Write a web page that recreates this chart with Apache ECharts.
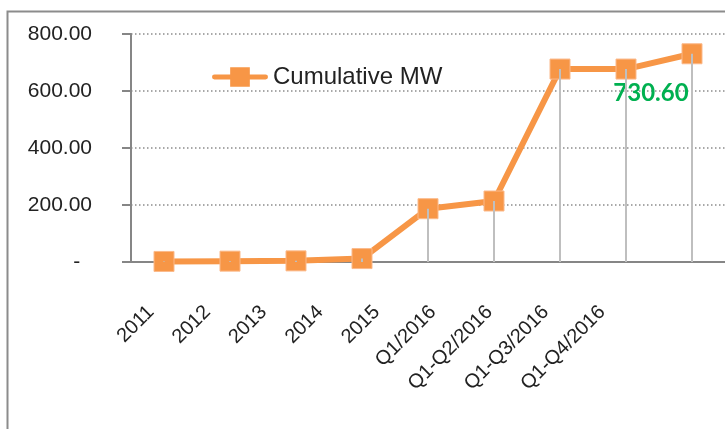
<!DOCTYPE html>
<html>
<head>
<meta charset="utf-8">
<script src="https://cdn.jsdelivr.net/npm/echarts@6/dist/echarts.min.js"></script>
<style>html,body{margin:0;padding:0;background:#fff;}#c{width:725px;height:429px;}</style>
</head>
<body>
<div id="c"></div>
<script>
var categories = ['2011','2012','2013','2014','2015','Q1/2016','Q1-Q2/2016','Q1-Q3/2016','Q1-Q4/2016'];
var cumulativeMW = [2, 3, 4, 12, 187, 214, 677, 677, 730.6];
var seriesName = 'Cumulative MW';
var yTicks = {min: 0, max: 800, interval: 200};

var chart = echarts.init(document.getElementById('c'), null, {renderer: 'canvas'});
var font = '"Liberation Sans", Arial, sans-serif';
var lastIdx = cumulativeMW.length - 1;
chart.setOption({
  animation: false,
  backgroundColor: '#fff',
  graphic: [{
    type: 'rect', shape: {x: 7.5, y: 11.5, width: 800, height: 500},
    style: {fill: 'none', stroke: '#8c8c8c', lineWidth: 2}, z: -10
  }],
  legend: {
    data: [{
      name: seriesName,
      icon: 'path://M2,7.5 L18,7.5 L18,0 L38,0 L38,7.5 L54,7.5 A2.5,2.5 0 0 1 54,12.5 L38,12.5 L38,20 L18,20 L18,12.5 L2,12.5 A2.5,2.5 0 0 1 2,7.5 Z'
    }],
    left: 212, top: 65, padding: 0,
    itemWidth: 56, itemHeight: 20, itemGap: 4,
    itemStyle: {color: '#F79646', borderWidth: 0},
    textStyle: {fontFamily: font, fontSize: 24, color: '#222'}
  },
  grid: [
    {left: 131, top: 34, width: 600, height: 228},
    {left: 122.8, top: 34, width: 507.6, height: 228}
  ],
  xAxis: [
    {
      type: 'category', data: categories, gridIndex: 0,
      axisLine: {lineStyle: {color: '#868686', width: 2}},
      axisTick: {show: false},
      axisLabel: {show: false}
    },
    {
      type: 'category', data: categories, gridIndex: 1,
      axisLine: {show: false}, axisTick: {show: false},
      axisLabel: {rotate: 45, margin: 47, fontFamily: font, fontSize: 20, color: '#222'}
    }
  ],
  yAxis: [
    {
      type: 'value', gridIndex: 0, min: yTicks.min, max: yTicks.max, interval: yTicks.interval,
      axisLine: {show: true, lineStyle: {color: '#868686', width: 2}},
      axisTick: {show: true, length: 9, lineStyle: {color: '#868686', width: 2}},
      axisLabel: {
        margin: 39, fontFamily: font, fontSize: 21, color: '#222',
        formatter: function (v) { return v === 0 ? '-  ' : v.toFixed(2); }
      },
      splitLine: {lineStyle: {color: '#8c8c8c', type: [1.5, 2.5], width: 1.5}}
    },
    {type: 'value', gridIndex: 1, show: false, min: 0, max: 800}
  ],
  series: [
    {
      name: 'drop', type: 'bar', xAxisIndex: 0, yAxisIndex: 0,
      data: cumulativeMW, barWidth: 2, z: 4,
      itemStyle: {color: '#BFBFBF'}, silent: true
    },
    {
      name: seriesName, type: 'line', xAxisIndex: 0, yAxisIndex: 0,
      data: cumulativeMW, z: 3,
      symbol: 'rect', symbolSize: 20,
      lineStyle: {color: '#F79646', width: 6},
      itemStyle: {color: '#F79646', borderColor: '#FBB98A', borderWidth: 1},
      label: {
        show: true, position: 'inside', offset: [-41, 39],
        fontFamily: 'Lato, "Open Sans", sans-serif', fontWeight: 'bold', fontSize: 24, color: '#00B050',
        formatter: function (p) { return p.dataIndex === lastIdx ? p.value.toFixed(2) : ''; }
      }
    }
  ]
});
</script>
</body>
</html>
